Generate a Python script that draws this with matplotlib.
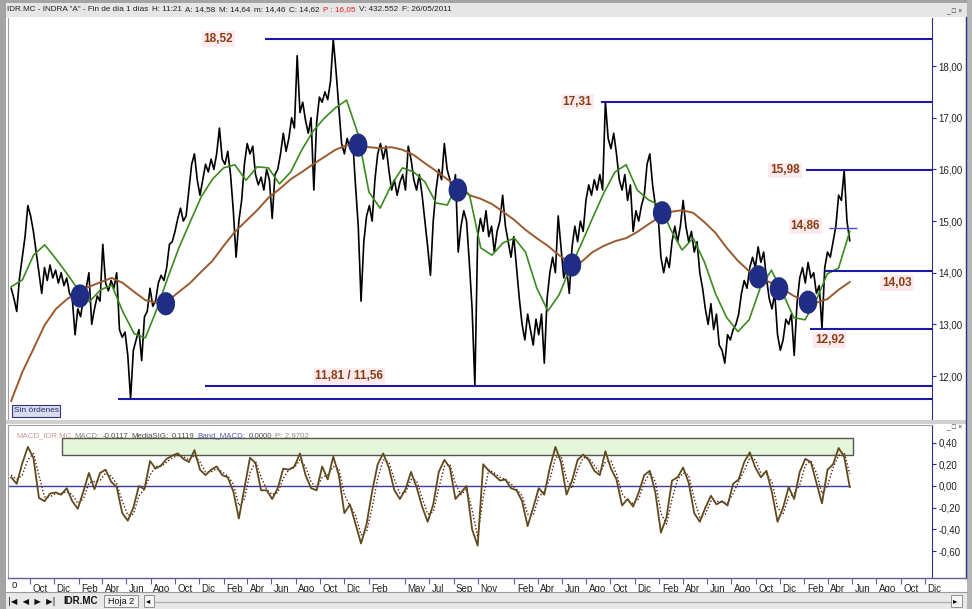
import pandas as pd
import matplotlib
matplotlib.use('Agg')
import matplotlib.pyplot as plt
import matplotlib.transforms as mtransforms
from matplotlib.patches import Rectangle
from matplotlib.lines import Line2D
import numpy as np

plt.rcParams['font.family'] = ['Liberation Sans', 'DejaVu Sans']

# weekly closes, 15/08/2005 .. 26/05/2011
close = [
    13.7, 13.5, 13.25, 13.9, 14.3, 14.7, 15.3, 15.1, 14.8, 14.4,
    14.0, 13.6, 14.1, 13.85, 14.15, 13.9, 14.05, 13.8, 14.0, 13.75,
    13.9, 13.6, 13.5, 12.8, 13.3, 13.15, 13.5, 13.7, 14.0, 13.0,
    13.3, 13.55, 13.45, 14.55, 13.8, 13.65, 13.85, 13.7, 14.0, 12.9,
    12.75, 12.85, 12.4, 11.56, 12.5, 12.7, 12.9, 12.3, 13.15, 13.25,
    13.7, 13.35, 13.45, 13.8, 13.95, 13.85, 14.1, 14.55, 14.6, 14.8,
    15.05, 15.25, 15.0, 15.1, 15.6, 16.1, 16.3, 15.8, 15.5, 15.8,
    16.1, 15.95, 16.2, 16.0, 16.3, 16.8, 16.2, 16.1, 16.35, 15.9,
    15.2, 14.3, 15.0, 15.4, 16.1, 16.5, 16.3, 16.45, 15.9, 15.7,
    15.85, 15.6, 16.0, 15.8, 15.05, 15.9, 16.0, 16.3, 16.7, 16.35,
    16.6, 17.0, 16.8, 18.2, 17.1, 17.3, 16.95, 16.7, 17.0, 15.6,
    16.9, 17.4, 17.3, 17.5, 17.35, 17.7, 18.52, 17.9, 17.2, 16.5,
    16.3, 16.6, 16.4, 16.55, 15.7, 14.9, 13.45, 14.6, 15.1, 15.3,
    15.0, 15.8, 16.3, 16.5, 16.2, 16.45, 16.0, 15.6, 15.8, 15.5,
    15.75, 15.9, 15.6, 16.45, 16.2, 15.8, 15.6, 15.9, 15.5, 15.0,
    14.5, 13.95, 15.0, 15.6, 16.0, 15.8, 16.5, 16.0, 15.8, 15.5,
    15.9, 14.4, 14.9, 15.2, 15.0, 14.2, 13.3, 11.81, 14.7, 15.05,
    14.8, 15.2, 14.7, 14.9, 14.4, 14.8, 15.0, 15.5, 14.9, 14.6,
    14.3, 14.7, 14.1, 13.5, 13.0, 12.7, 13.2, 12.9, 12.6, 13.1,
    12.8, 13.2, 12.25, 13.5, 14.0, 14.3, 14.0, 15.1, 14.5, 13.9,
    14.1, 13.6, 14.5, 14.9, 14.6, 15.0, 14.8, 15.4, 15.7, 15.5,
    15.8, 15.6, 15.9, 15.6, 17.31, 16.6, 16.4, 16.7, 16.3, 15.8,
    15.6, 15.9, 15.4, 15.7, 14.8, 15.2, 15.0, 15.3, 15.5, 16.1,
    16.3, 15.7, 15.3, 15.1, 14.3, 14.0, 14.3, 14.1, 14.6, 14.9,
    14.6, 14.9, 15.4, 14.9, 14.6, 14.8, 14.4, 14.6, 14.0, 13.7,
    13.3, 13.0, 13.4, 12.9, 13.2, 12.6, 12.5, 12.25, 12.8, 12.7,
    12.9, 13.0, 13.2, 13.6, 13.85, 13.7, 14.1, 14.3, 14.1, 14.5,
    14.2, 14.4, 13.9, 13.5, 13.3, 13.6, 12.8, 12.5, 12.7, 13.1,
    13.0, 13.2, 12.4, 13.4, 13.9, 14.1, 13.8, 14.2, 13.9, 14.0,
    13.6, 13.75, 12.92, 14.1, 14.4, 14.3, 14.6, 14.9, 15.5, 15.4,
    15.98, 15.0, 14.62,
]

# short (green) and long (brown) moving averages, read every ~4 weeks
green_ma = [
    13.73, 13.86, 14.34, 14.54, 14.27, 13.98, 13.67, 13.44, 13.67, 13.76,
    13.24, 12.82, 12.74, 13.28, 13.90, 14.48, 14.98, 15.47, 15.81, 16.03,
    16.09, 15.79, 16.05, 16.03, 15.72, 15.95, 16.38, 16.74, 16.99, 17.19,
    17.34, 16.70, 15.56, 15.25, 15.70, 16.03, 15.95, 15.76, 15.35, 15.31,
    15.74, 15.50, 14.48, 14.34, 14.58, 14.67, 14.40, 13.71, 13.26, 13.57,
    14.09, 14.56, 15.06, 15.54, 15.95, 16.09, 15.60, 15.41, 15.31, 14.83,
    14.44, 14.67, 14.21, 13.59, 13.13, 12.86, 13.09, 13.71, 14.05, 13.61,
    13.13, 13.09, 13.47, 13.98, 14.09, 14.80,
]
brown_ma = [
    11.52, 12.08, 12.53, 12.99, 13.30, 13.49, 13.63, 13.73, 13.82, 13.90,
    13.80, 13.63, 13.47, 13.42, 13.45, 13.63, 13.80, 14.02, 14.23, 14.52,
    14.79, 15.00, 15.21, 15.45, 15.62, 15.81, 15.95, 16.10, 16.24, 16.38,
    16.47, 16.47, 16.43, 16.41, 16.43, 16.38, 16.28, 16.12, 15.97, 15.81,
    15.66, 15.50, 15.43, 15.33, 15.18, 15.02, 14.83, 14.67, 14.52, 14.34,
    14.19, 14.21, 14.40, 14.52, 14.61, 14.67, 14.79, 14.94, 15.08, 15.18,
    15.21, 15.16, 14.98, 14.77, 14.48, 14.23, 14.03, 13.90, 13.80, 13.69,
    13.55, 13.45, 13.42, 13.49, 13.67, 13.82,
]

# MACD and its signal line, read every ~2 weeks
macd = [
    0.08, 0.02, 0.21, 0.36, 0.26, -0.11, -0.14, -0.07, -0.06, -0.08,
    -0.02, -0.14, -0.21, -0.05, 0.12, -0.03, 0.12, 0.15, 0.04, -0.01,
    -0.25, -0.32, -0.20, 0.00, -0.03, 0.23, 0.16, 0.19, 0.25, 0.28,
    0.30, 0.25, 0.22, 0.33, 0.15, 0.10, 0.15, 0.18, 0.10, 0.08,
    -0.05, -0.30, -0.02, 0.26, 0.21, -0.04, -0.04, -0.12, -0.02, 0.16,
    0.15, 0.18, 0.30, 0.10, -0.02, -0.04, 0.18, 0.06, 0.27, 0.10,
    -0.25, -0.17, -0.35, -0.53, -0.35, -0.05, 0.20, 0.30, 0.17, -0.04,
    -0.12, -0.03, 0.13, -0.01, -0.19, -0.33, -0.17, 0.13, 0.24, 0.17,
    -0.12, -0.06, 0.00, -0.40, -0.55, 0.20, 0.14, 0.10, 0.05, 0.06,
    -0.02, -0.04, -0.14, -0.37, -0.20, -0.02, -0.08, 0.17, 0.36, 0.22,
    -0.08, 0.05, 0.24, 0.29, 0.24, 0.14, 0.10, 0.32, 0.16, 0.06,
    -0.18, -0.12, -0.19, -0.06, 0.10, 0.14, -0.06, -0.43, -0.29, 0.05,
    0.08, 0.17, 0.03, -0.25, -0.33, -0.20, -0.09, -0.17, -0.14, -0.18,
    0.02, 0.06, 0.22, 0.31, 0.17, 0.08, 0.14, -0.06, -0.33, -0.20,
    -0.01, -0.12, 0.13, 0.25, 0.22, 0.03, -0.16, 0.15, 0.20, 0.35,
    0.27, -0.01,
]
signal = [
    0.10, 0.06, 0.10, 0.24, 0.30, 0.10, -0.10, -0.10, -0.07, -0.07,
    -0.05, -0.08, -0.16, -0.12, 0.03, 0.04, 0.05, 0.12, 0.09, 0.02,
    -0.14, -0.27, -0.26, -0.09, -0.03, 0.10, 0.18, 0.18, 0.22, 0.26,
    0.28, 0.27, 0.24, 0.28, 0.22, 0.13, 0.13, 0.16, 0.13, 0.09,
    0.02, -0.18, -0.12, 0.12, 0.23, 0.08, -0.03, -0.08, -0.06, 0.07,
    0.15, 0.17, 0.24, 0.18, 0.04, -0.02, 0.08, 0.10, 0.18, 0.16,
    -0.08, -0.18, -0.27, -0.45, -0.42, -0.20, 0.07, 0.24, 0.22, 0.06,
    -0.07, -0.06, 0.06, 0.05, -0.11, -0.26, -0.24, -0.02, 0.18, 0.20,
    0.02, -0.08, -0.03, -0.22, -0.47, -0.10, 0.15, 0.12, 0.08, 0.06,
    0.02, -0.03, -0.09, -0.26, -0.27, -0.10, -0.05, 0.06, 0.26, 0.28,
    0.06, -0.02, 0.15, 0.26, 0.26, 0.19, 0.12, 0.22, 0.23, 0.11,
    -0.07, -0.14, -0.16, -0.12, 0.03, 0.12, 0.04, -0.25, -0.35, -0.12,
    0.06, 0.12, 0.10, -0.12, -0.29, -0.26, -0.14, -0.14, -0.15, -0.16,
    -0.07, 0.04, 0.14, 0.26, 0.24, 0.12, 0.11, 0.04, -0.20, -0.26,
    -0.10, -0.07, 0.01, 0.19, 0.23, 0.12, -0.07, 0.00, 0.17, 0.28,
    0.31, 0.11,
]

# moving-average crossings (blue dots)
cross_dates = ['2006-02-04', '2006-09-08', '2008-01-05', '2008-09-12', '2009-06-26',
               '2010-02-08', '2010-10-08', '2010-11-29', '2011-02-10']
cross_vals = [13.55, 13.40, 16.47, 15.60, 14.15, 15.16, 13.92, 13.69, 13.43]

# support / resistance lines
level_vals = [18.52, 17.31, 15.98, 14.03, 12.92, 11.81, 11.56]
level_start = ['2007-05-16', '2009-09-07', '2011-02-05', '2011-03-25', '2011-02-15',
               '2006-12-15', '2006-05-10']
mark_val, mark_span = 14.86, ('2011-04-04', '2011-06-14')
label_text = ['18,52', '17,31', '15,98', '14,86', '14,03', '12,92', '11,81 / 11,56']
label_date = ['2007-01-18', '2009-07-09', '2010-12-14', '2011-02-03', '2011-09-22',
              '2011-04-06', '2007-12-14']
label_val = [18.52, 17.31, 15.98, 14.90, 13.80, 12.70, 12.00]

tick_dates = ['2005-10-01', '2005-12-01', '2006-02-01', '2006-04-01', '2006-06-01',
              '2006-08-01', '2006-10-01', '2006-12-01', '2007-02-01', '2007-04-01',
              '2007-06-01', '2007-08-01', '2007-10-01', '2007-12-01', '2008-02-01',
              '2008-05-01', '2008-07-01', '2008-09-01', '2008-11-01', '2009-02-01',
              '2009-04-01', '2009-06-01', '2009-08-01', '2009-10-01', '2009-12-01',
              '2010-02-01', '2010-04-01', '2010-06-01', '2010-08-01', '2010-10-01',
              '2010-12-01', '2011-02-01', '2011-04-01', '2011-06-01', '2011-08-01',
              '2011-10-01', '2011-12-01']
tick_labels = ['Oct', 'Dic', 'Feb', 'Abr', 'Jun', 'Ago', 'Oct', 'Dic', 'Feb', 'Abr',
               'Jun', 'Ago', 'Oct', 'Dic', 'Feb', 'May', 'Jul', 'Sep', 'Nov', 'Feb',
               'Abr', 'Jun', 'Ago', 'Oct', 'Dic', 'Feb', 'Abr', 'Jun', 'Ago', 'Oct',
               'Dic', 'Feb', 'Abr', 'Jun', 'Ago', 'Oct', 'Dic']

start, end = '2005-08-15', '2011-05-26'
price_dates = pd.date_range(start, end, periods=len(close))
ma_dates = pd.date_range(start, end, periods=len(green_ma))
macd_dates = pd.date_range(start, end, periods=len(macd))
x0, x1 = pd.Timestamp('2005-08-07'), pd.Timestamp('2011-12-19')

W, H = 972, 609
fig = plt.figure(figsize=(W / 100, H / 100), dpi=100)
fig.patch.set_facecolor('white')
renderer = fig.canvas.get_renderer()


def fx(px):
    return px / W


def fy(py):
    return 1 - py / H


def box(a, b, c, d, **kw):
    fig.patches.append(Rectangle((fx(a), fy(d)), fx(c) - fx(a), fy(b) - fy(d),
                                 transform=fig.transFigure, **kw))


def fline(xs, ys, **kw):
    fig.lines.append(Line2D([fx(v) for v in xs], [fy(v) for v in ys],
                            transform=fig.transFigure, **kw))


def text_row(px, py, parts, gap, **kw):
    # lay out pieces of a status line one after another
    for s, c in parts:
        t = fig.text(fx(px), fy(py), s, color=c, va='center', **kw)
        px += t.get_window_extent(renderer).width + gap


NAVY = '#2c2c8c'
LEVEL = '#1a1aa6'
LBL = '#8a3c12'

# window chrome
box(0, 0, 972, 3, fc='#a4a4a4', ec='none')
box(0, 0, 6, 609, fc='#a4a4a4', ec='none')
box(967, 0, 972, 609, fc='#b4b4b4', ec='none')
box(6, 3, 967, 17, fc='#e6e6e6', ec='none')
box(6, 420, 967, 424, fc='#d0d0d0', ec='none')
box(6, 592, 967, 609, fc='#e8e8e8', ec='none')
fline([6, 967], [592, 592], color='#9a9a9a', lw=0.8)
fline([966, 966], [17, 578], color=NAVY, lw=1)
fline([8, 966], [578, 578], color='#6060a0', lw=1)

ax1 = fig.add_axes([fx(8), fy(420), fx(932) - fx(8), fy(18) - fy(420)])
ax2 = fig.add_axes([fx(8), fy(578), fx(932) - fx(8), fy(425) - fy(578)], sharex=ax1)

# ---- price panel
ax1.plot(price_dates, close, color='black', lw=1.2, zorder=3)
ax1.plot(ma_dates, brown_ma, color='#9b5a2e', lw=1.4, zorder=4)
ax1.plot(ma_dates, green_ma, color='#3b8a1f', lw=1.2, zorder=4)
t = np.linspace(0, 2 * np.pi, 40)
ell = np.column_stack([0.8 * np.cos(t), np.sin(t)])
ax1.scatter(pd.to_datetime(cross_dates), cross_vals, marker=ell, s=280,
            color='#1f2d85', edgecolors='none', zorder=6)
for v, s in zip(level_vals, level_start):
    ax1.hlines(v, pd.Timestamp(s), x1, color=LEVEL, lw=1.5, zorder=5)
ax1.hlines(mark_val, pd.Timestamp(mark_span[0]), pd.Timestamp(mark_span[1]),
           color='#4a4ad0', lw=1, zorder=5)
for lb, d, v in zip(label_text, label_date, label_val):
    ax1.text(pd.Timestamp(d), v, lb, color=LBL, fontsize=8.5, fontweight='bold',
             ha='center', va='center', zorder=7,
             bbox=dict(boxstyle='square,pad=0.15', fc='#fdeaec', ec='none'))

ax1.set_xlim(x0, x1)
ax1.set_ylim(11.15, 18.93)
ax1.yaxis.tick_right()
ax1.set_yticks(range(12, 19))
ax1.set_yticklabels(['%d,00' % v for v in range(12, 19)])
ax1.tick_params(axis='y', direction='out', length=3, color=NAVY, labelsize=7,
                labelcolor='#222222', pad=1.5)
ax1.tick_params(axis='x', bottom=False, labelbottom=False)
for k in ['top', 'bottom']:
    ax1.spines[k].set_visible(False)
ax1.spines['left'].set_color('#a0a0a0')
ax1.spines['right'].set_color(NAVY)

# ---- MACD panel
band = Rectangle((pd.Timestamp('2005-12-20'), 0.29),
                 pd.Timestamp('2011-06-04') - pd.Timestamp('2005-12-20'), 0.15,
                 fc='#e6f6da', ec='#555555', lw=1, zorder=1)
ax2.add_patch(band)
ax2.hlines(0, x0, pd.Timestamp(end), color='#3a3aa0', lw=1, zorder=2)
ax2.plot(macd_dates, signal, color='#5a1a10', lw=1.0, ls=(0, (1, 1.5)), zorder=3)
ax2.plot(macd_dates, macd, color='#5e4a1c', lw=1.3, zorder=4)
ax2.set_ylim(-0.848, 0.562)
ax2.yaxis.tick_right()
mticks = [0.4, 0.2, 0.0, -0.2, -0.4, -0.6]
ax2.set_yticks(mticks)
ax2.set_yticklabels([('%.2f' % v).replace('.', ',') for v in mticks])
ax2.tick_params(axis='y', direction='out', length=3, color=NAVY, labelsize=7,
                labelcolor='#222222', pad=1.5)
ax2.set_xticks(pd.to_datetime(tick_dates))
ax2.set_xticklabels(tick_labels)
ax2.tick_params(axis='x', direction='out', length=4, color='#6060a0', labelsize=7,
                labelcolor='#222222', pad=0.5)
shift = mtransforms.ScaledTranslation(2.5 / 100, 0, fig.dpi_scale_trans)
for lab in ax2.get_xticklabels():
    lab.set_horizontalalignment('left')
    lab.set_transform(lab.get_transform() + shift)
ax2.spines['top'].set_color('#a0a0a0')
ax2.spines['left'].set_color('#a0a0a0')
ax2.spines['right'].set_color(NAVY)
ax2.spines['bottom'].set_visible(False)
ax2.set_xlim(x0, x1)

# ---- header texts
dark = '#222222'
text_row(7, 9.5, [('IDR.MC - INDRA "A" - Fin de día 1 días', dark),
                  ('H: 11:21', dark), ('A: 14,58', dark), ('M: 14,64', dark),
                  ('m: 14,46', dark), ('C: 14,62', dark), ('P : 16,05', '#e02020'),
                  ('V: 432.552', dark), ('F: 26/05/2011', dark)],
         gap=3.5, fontsize=5.9)
text_row(16, 436, [('MACD_IDR.MC', '#c89a96'), ('MACD:', '#8a8a8a'),
                   ('-0,0117', '#505050'), ('MediaSIG:', '#4a4a4a'),
                   ('0,1119', '#505050'), ('Band_MACD:', '#5a5ab8'),
                   ('0,0000', '#505050'), ('P: 2,9702', '#8a8a8a')],
         gap=3, fontsize=5.7)
fig.text(fx(946), fy(12), '_ □ ×', fontsize=5, va='center', color='#333333')
fig.text(fx(946), fy(428), '_ □ ×', fontsize=5, va='center', color='#333333')

box(12, 405, 60, 417, fc='#d8dcef', ec='#35357a', lw=0.8)
fig.text(fx(36), fy(411), 'Sin órdenes', fontsize=6, ha='center', va='center',
         color='#2a2a6a')
fig.text(fx(12), fy(585.5), 'o', fontsize=7, va='center', color='#222222')

# sheet tabs
fig.text(fx(8), fy(601), '|◀  ◀  ▶  ▶|', fontsize=6, va='center', color='#111111',
         family=['DejaVu Sans'])
fig.text(fx(63), fy(601), 'IDR.MC', fontsize=7, fontweight='bold', va='center',
         color='#111111')
box(104, 595, 138, 607, fc='#f4f4f4', ec='#808080', lw=0.6)
fig.text(fx(108), fy(601), 'Hoja 2', fontsize=6.5, va='center', color='#111111')
box(144, 595, 154, 607, fc='#f4f4f4', ec='#808080', lw=0.6)
fig.text(fx(146), fy(601), '◂', fontsize=6, va='center', family=['DejaVu Sans'])
fline([155, 950], [602, 602], color='#b0b0b0', lw=1)
box(951, 595, 962, 607, fc='#f4f4f4', ec='#808080', lw=0.6)
fig.text(fx(953), fy(601), '▸', fontsize=6, va='center', family=['DejaVu Sans'])

fig.savefig('out.png', dpi=100)
